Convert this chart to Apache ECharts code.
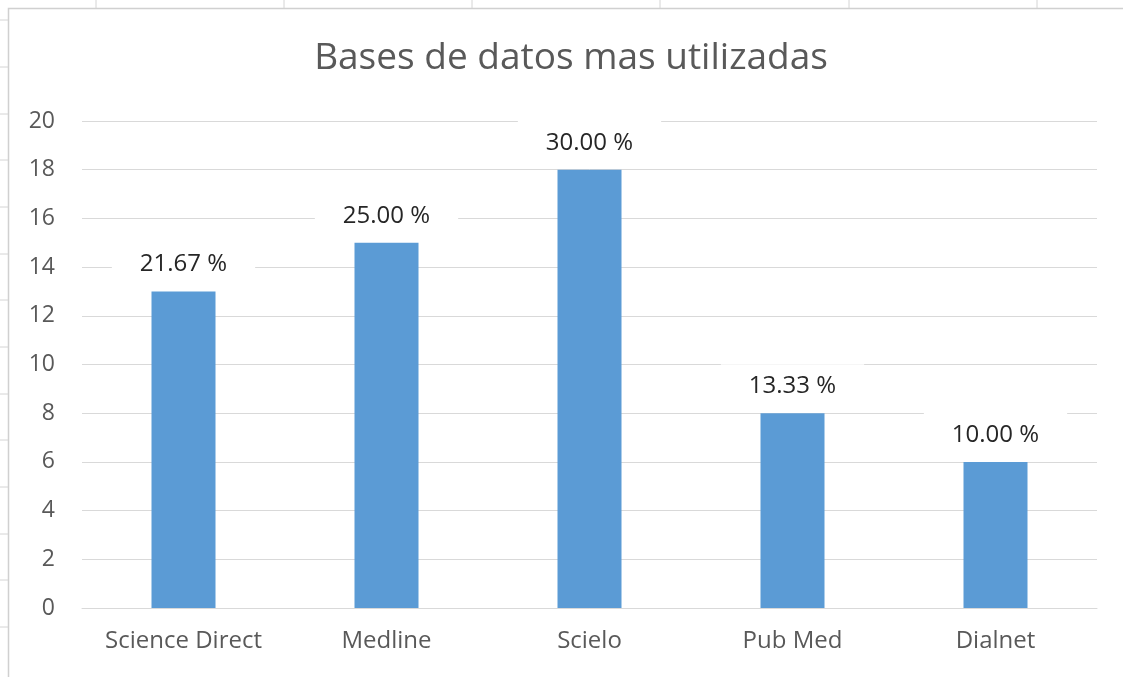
<!DOCTYPE html>
<html>
<head>
<meta charset="utf-8">
<script src="https://cdn.jsdelivr.net/npm/echarts@6/dist/echarts.min.js"></script>
<style>
  html, body { margin: 0; padding: 0; background: #fff; }
  #chart { width: 1123px; height: 677px; }
</style>
</head>
<body>
<div id="chart"></div>
<script>
// datos
const categories = ["Science Direct", "Medline", "Scielo", "Pub Med", "Dialnet"];
const counts = [13, 15, 18, 8, 6];
const percentLabels = ["21.67 %", "25.00 %", "30.00 %", "13.33 %", "10.00 %"];
const yTicks = [0, 2, 4, 6, 8, 10, 12, 14, 16, 18, 20];

const chart = echarts.init(document.getElementById("chart"));

// marcas de la hoja de calculo alrededor del grafico
const sheetMarks = [];
[96, 284, 472, 660, 849, 1037].forEach(x => {
  sheetMarks.push({ type: "line", shape: { x1: x, y1: 0, x2: x, y2: 8 }, style: { stroke: "#d4d4d4", lineWidth: 1 } });
});
[20, 67, 114, 160, 207, 254, 300, 347, 394, 440, 487, 534, 580, 627].forEach(y => {
  sheetMarks.push({ type: "line", shape: { x1: 0, y1: y, x2: 8, y2: y }, style: { stroke: "#d4d4d4", lineWidth: 1 } });
});

const option = {
  backgroundColor: "#fff",
  animation: false,
  title: {
    text: "Bases de datos mas utilizadas",
    left: 566,
    top: 35,
    textAlign: "center",
    textStyle: {
      fontFamily: "Open Sans",
      fontWeight: "normal",
      fontSize: 37,
      color: "#595959"
    }
  },
  graphic: [
    {
      type: "polyline",
      shape: { points: [[8.5, 677], [8.5, 8.5], [1123, 8.5]] },
      style: { stroke: "#d0d0d0", lineWidth: 1.5, fill: null },
      z: 0
    }
  ].concat(sheetMarks),
  grid: {
    left: 82,
    right: 26,
    top: 121,
    bottom: 69,
    containLabel: false
  },
  xAxis: {
    type: "category",
    data: categories,
    axisLine: { show: true, lineStyle: { color: "#d9d9d9", width: 1 } },
    axisTick: { show: false },
    axisLabel: {
      interval: 0,
      fontFamily: "Open Sans",
      fontSize: 24,
      color: "#595959",
      margin: 21
    }
  },
  yAxis: {
    type: "value",
    min: yTicks[0],
    max: yTicks[yTicks.length - 1],
    interval: 2,
    axisLine: { show: false },
    axisTick: { show: false },
    splitLine: { lineStyle: { color: "#d9d9d9", width: 1 } },
    axisLabel: {
      fontFamily: "Open Sans",
      fontSize: 23,
      color: "#595959",
      margin: 27
    }
  },
  series: [
    {
      type: "bar",
      data: counts,
      barWidth: 64,
      itemStyle: { color: "#5b9bd5" },
      z: 3,
      label: {
        show: true,
        position: "top",
        distance: 5,
        formatter: p => percentLabels[p.dataIndex],
        fontFamily: "Open Sans",
        fontSize: 24,
        color: "#262626",
        backgroundColor: "#fff",
        padding: [10, 28]
      }
    }
  ]
};

chart.setOption(option);
</script>
</body>
</html>
